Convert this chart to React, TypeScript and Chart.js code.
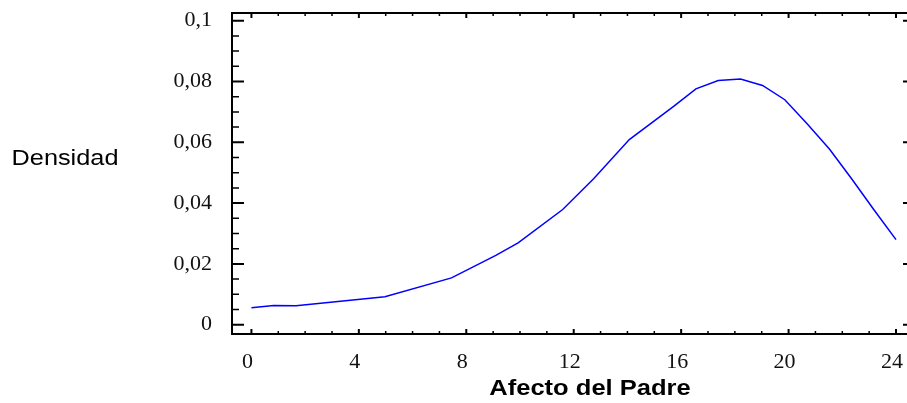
import React, { useEffect, useRef } from 'react';
import { Chart, registerables } from 'chart.js';

Chart.register(...registerables);

// ---- data ----
const densityX = [0, 0.83, 1.66, 4.97, 7.45, 9.1, 9.93, 11.59, 12.75, 14.07, 15.72, 16.55, 17.38, 18.21, 19.03, 19.86, 20.69, 21.52, 22.34, 23.17, 24.0];
const densityY = [0.0056, 0.0063, 0.0062, 0.0092, 0.0154, 0.0228, 0.0269, 0.0379, 0.0481, 0.0609, 0.0718, 0.0776, 0.0803, 0.0808, 0.0787, 0.074, 0.0661, 0.0578, 0.0481, 0.0379, 0.028];

const xTickValues = [0, 4, 8, 12, 16, 20, 24];
const xTickLabels = ['0', '4', '8', '12', '16', '20', '24'];
const yTickValues = [0, 0.02, 0.04, 0.06, 0.08, 0.1];
const yTickLabels = ['0', '0,02', '0,04', '0,06', '0,08', '0,1'];
const xMinorStep = 1;
const yMinorStep = 0.005;

const xTitle = 'Afecto del Padre';
const yTitle = 'Densidad';

function drawStretched(ctx: CanvasRenderingContext2D, text: string, cx: number, cy: number, font: string, sx: number) {
  ctx.save();
  ctx.font = font;
  ctx.fillStyle = '#000';
  ctx.textAlign = 'center';
  ctx.textBaseline = 'middle';
  ctx.translate(cx, cy);
  ctx.scale(sx, 1);
  ctx.fillText(text, 0, 0);
  ctx.restore();
}

const framePlugin = {
  id: 'frameTicks',
  afterDatasetsDraw(chart: any) {
    const { ctx, chartArea: a, scales } = chart;
    const x = scales.x;
    const y = scales.y;
    ctx.save();
    ctx.strokeStyle = '#000';
    ctx.lineWidth = 2;
    ctx.strokeRect(a.left, a.top, a.right - a.left, a.bottom - a.top);

    // x ticks (bottom and top, pointing inward)
    const xFirst = xTickValues[0];
    const xLast = xTickValues[xTickValues.length - 1];
    for (let v = xFirst; v <= xLast + 1e-9; v += xMinorStep) {
      const major = xTickValues.some((t) => Math.abs(t - v) < 1e-9);
      const len = major ? 5 : 3;
      const px = x.getPixelForValue(v);
      ctx.lineWidth = major ? 2 : 1.5;
      ctx.beginPath();
      ctx.moveTo(px, a.bottom);
      ctx.lineTo(px, a.bottom - len);
      ctx.moveTo(px, a.top);
      ctx.lineTo(px, a.top + len);
      ctx.stroke();
    }
    // y ticks (left and right, pointing inward)
    const yFirst = yTickValues[0];
    const yLast = yTickValues[yTickValues.length - 1];
    const nY = Math.round((yLast - yFirst) / yMinorStep);
    for (let i = 0; i <= nY; i++) {
      const v = yFirst + i * yMinorStep;
      const major = yTickValues.some((t) => Math.abs(t - v) < 1e-9);
      const len = major ? 12 : 7;
      const py = y.getPixelForValue(v);
      ctx.lineWidth = major ? 2 : 1.5;
      ctx.beginPath();
      ctx.moveTo(a.left, py);
      ctx.lineTo(a.left + len, py);
      ctx.moveTo(a.right, py);
      ctx.lineTo(a.right - len, py);
      ctx.stroke();
    }
    ctx.restore();

    drawStretched(ctx, yTitle, 65, 159, '22px "Liberation Sans", Arial, sans-serif', 1.15);
    drawStretched(ctx, xTitle, 590, 389, 'bold 22px "Liberation Sans", Arial, sans-serif', 1.16);
  },
};

export default function App() {
  const ref = useRef<HTMLCanvasElement | null>(null);

  useEffect(() => {
    if (!ref.current) return;
    const tickFont = { family: '"Liberation Serif", "Times New Roman", serif', size: 22 };
    const chart = new Chart(ref.current, {
      type: 'line',
      data: {
        datasets: [
          {
            data: densityX.map((xv, i) => ({ x: xv, y: densityY[i] })),
            borderColor: '#0000ff',
            borderWidth: 1.5,
            pointRadius: 0,
            fill: false,
            tension: 0,
          },
        ],
      },
      options: {
        animation: false,
        responsive: false,
        devicePixelRatio: 1,
        layout: { padding: { top: 13, right: 5, left: 0, bottom: 0 } },
        plugins: { legend: { display: false }, tooltip: { enabled: false } },
        scales: {
          x: {
            type: 'linear',
            min: -0.723,
            max: 24.707,
            grid: { display: false, drawTicks: false },
            border: { display: false },
            afterBuildTicks: (s: any) => {
              s.ticks = xTickValues.map((v) => ({ value: v }));
            },
            afterFit: (s: any) => {
              s.height = 69;
              s.paddingLeft = 0;
              s.paddingRight = 0;
              s.paddingTop = 0;
              s.paddingBottom = 0;
            },
            ticks: {
              padding: 15,
              labelOffset: -4,
              maxRotation: 0,
              autoSkip: false,
              font: tickFont,
              color: '#111',
              callback: (v: any) => xTickLabels[xTickValues.indexOf(Number(v))],
            },
          },
          y: {
            type: 'linear',
            min: -0.00306,
            max: 0.10253,
            grid: { display: false, drawTicks: false },
            border: { display: false },
            afterBuildTicks: (s: any) => {
              s.ticks = yTickValues.map((v) => ({ value: v }));
            },
            afterFit: (s: any) => {
              s.width = 232;
              s.paddingLeft = 0;
              s.paddingRight = 0;
              s.paddingTop = 0;
              s.paddingBottom = 0;
            },
            ticks: {
              padding: 20,
              autoSkip: false,
              font: tickFont,
              color: '#111',
              callback: (v: any) => {
                const idx = yTickValues.findIndex((t) => Math.abs(t - Number(v)) < 1e-9);
                return idx >= 0 ? yTickLabels[idx] : '';
              },
            },
          },
        },
      },
      plugins: [framePlugin],
    } as any);
    return () => chart.destroy();
  }, []);

  return (
    <div style={{ position: 'fixed', left: 0, top: 0, width: 907, height: 403, overflow: 'hidden', background: '#fff' }}>
      <canvas ref={ref} width={920} height={403} style={{ display: 'block' }} />
    </div>
  );
}
